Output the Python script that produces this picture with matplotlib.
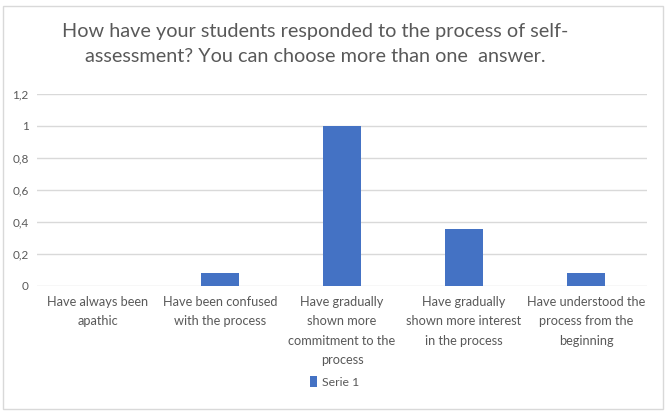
import matplotlib
matplotlib.use("Agg")
import matplotlib.pyplot as plt
from matplotlib.patches import Rectangle

# chart data
categories = [
    "Have always been\napathic",
    "Have been confused\nwith the process",
    "Have gradually\nshown more\ncommitment to the\nprocess",
    "Have gradually\nshown more interest\nin the process",
    "Have understood the\nprocess from the\nbeginning",
]
values = [0, 0.083, 1.0, 0.357, 0.083]
series_name = "Serie 1"
y_ticks = [0, 0.2, 0.4, 0.6, 0.8, 1.0, 1.2]
y_tick_labels = ["0", "0,2", "0,4", "0,6", "0,8", "1", "1,2"]

title = "How have your students responded to the process of self-\nassessment? You can choose more than one  answer."

plt.rcParams["font.family"] = ["Lato", "DejaVu Sans"]
text_grey = "#595959"
grid_grey = "#d9d9d9"
bar_blue = "#4472c4"

fig = plt.figure(figsize=(6.69, 4.12), dpi=100)
ax = fig.add_axes([37 / 669, 1 - 286 / 412, 610 / 669, 192 / 412])

x = list(range(len(categories)))
ax.bar(x, values, width=0.31, color=bar_blue, label=series_name, zorder=3)

ax.set_xlim(-0.5, len(categories) - 0.5)
ax.set_ylim(0, 1.2)
ax.set_yticks(y_ticks)
ax.set_yticklabels(y_tick_labels, color=text_grey, fontsize=8.5)
ax.set_xticks(x)
ax.set_xticklabels(categories, color=text_grey, fontsize=9.2, linespacing=1.74, va="top")
ax.tick_params(axis="both", length=0)
ax.tick_params(axis="y", pad=6)
ax.tick_params(axis="x", pad=7)
ax.grid(axis="y", color=grid_grey, linewidth=1, zorder=0)
for s in ax.spines.values():
    s.set_visible(False)

fig.text(315 / 669, 1 - 44 / 412, title, ha="center", va="center",
         fontsize=14.3, color=text_grey, linespacing=1.6)

fig.legend(loc="center", bbox_to_anchor=(0.5, 1 - 382 / 412), frameon=False,
           fontsize=8.8, labelcolor=text_grey, handlelength=0.6, handleheight=0.9,
           handletextpad=0.4)

# light frame around the chart area
fig.patches.append(Rectangle((3 / 669, 3 / 412), 660 / 669, 403 / 412, transform=fig.transFigure,
                             fill=False, edgecolor=grid_grey, linewidth=1))

fig.savefig("out.png", dpi=100)
